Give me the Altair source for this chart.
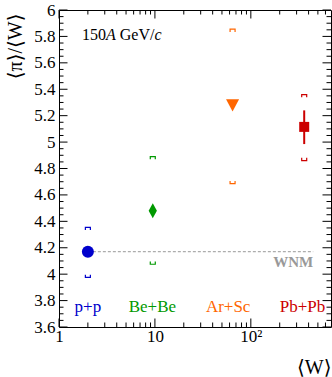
import altair as alt
import pandas as pd
import numpy as np

# ---- data ----
systems = ["p+p", "Be+Be", "Ar+Sc", "Pb+Pb"]
w_mean = [2.0, 9.5, 64.5, 360.0]
pi_over_w = [4.17, 4.48, 5.285, 5.115]
stat_lo = [4.165, 4.472, 5.278, 4.985]
stat_hi = [4.175, 4.488, 5.292, 5.24]
sys_lo = [3.975, 4.075, 4.685, 4.86]
sys_hi = [4.355, 4.89, 5.855, 5.36]

label_x = [2.0, 9.4, 58.0, 345.0]
label_y = [3.75, 3.75, 3.75, 3.75]

wnm_value = 4.17
wnm_x = [2.0, 447.0]
wnm_label_y = 4.094

y_major = [3.6, 3.8, 4.0, 4.2, 4.4, 4.6, 4.8, 5.0, 5.2, 5.4, 5.6, 5.8, 6.0]
y_minor = [round(3.6 + 0.05 * i, 2) for i in range(49) if i % 4 != 0]
x_major = [1, 10, 100]
x_minor = [2, 3, 4, 5, 6, 7, 8, 9, 20, 30, 40, 50, 60, 70, 80, 90,
           200, 300, 400, 500, 600]

# ---- styles ----
colors = ["#0000CC", "#009900", "#FF6600", "#CC0000"]
shapes = ["circle", "M0,-1L0.55,0L0,1L-0.55,0Z", "M-1,-0.8L1,-0.8L0,1.1Z", "square"]
sizes = [144, 225, 169, 100]
SERIF = "Liberation Serif, DejaVu Serif, serif"

W, H = 272, 317

xs = alt.Scale(type="log", domain=[1, 685], nice=False)
ys = alt.Scale(domain=[3.6, 6.0], nice=False, zero=False)

xaxis = alt.Axis(values=x_major, labelExpr="datum.value == 100 ? '10²' : datum.label",
                 grid=False, domain=False, ticks=False, labelFlush=False,
                 labelFont=SERIF, labelFontSize=17, labelColor="black", labelPadding=1,
                 title="⟨W⟩", titleX=W, titleY=40, titleAlign="right", titleBaseline="middle",
                 titleFont=SERIF, titleFontSize=20, titleFontWeight="normal", titleColor="black")
yaxis = alt.Axis(values=y_major, format="~g",
                 grid=False, domain=False, ticks=False, labelFlush=False,
                 labelFont=SERIF, labelFontSize=17, labelColor="black", labelPadding=4,
                 title="⟨π⟩/⟨W⟩", titleAngle=270, titleX=-44, titleY=3, titleAlign="right",
                 titleBaseline="middle", titleFont=SERIF, titleFontSize=20,
                 titleFontWeight="normal", titleColor="black")


def X(f):
    return alt.X(f, type="quantitative", scale=xs, axis=xaxis)


def Y(f):
    return alt.Y(f, type="quantitative", scale=ys, axis=yaxis)


df = pd.DataFrame({"system": systems, "w": w_mean, "r": pi_over_w,
                   "slo": stat_lo, "shi": stat_hi, "ylo": sys_lo, "yhi": sys_hi,
                   "lx": label_x, "ly": label_y})
color = alt.Color("system:N", scale=alt.Scale(domain=systems, range=colors), legend=None)

ymaj = pd.DataFrame({"v": y_major})
ymin = pd.DataFrame({"v": y_minor})
xmaj = pd.DataFrame({"v": x_major})
xmin = pd.DataFrame({"v": x_minor})

layers = []
tick = dict(color="black", strokeWidth=1)
# left / right ticks
layers.append(alt.Chart(ymaj).mark_rule(**tick).encode(y=Y("v"), x=alt.value(0), x2=alt.value(8.5)))
layers.append(alt.Chart(ymin).mark_rule(**tick).encode(y=Y("v"), x=alt.value(0), x2=alt.value(4.5)))
layers.append(alt.Chart(ymaj).mark_rule(**tick).encode(y=Y("v"), x=alt.value(W), x2=alt.value(W - 8.5)))
layers.append(alt.Chart(ymin).mark_rule(**tick).encode(y=Y("v"), x=alt.value(W), x2=alt.value(W - 4.5)))
# bottom / top ticks
layers.append(alt.Chart(xmaj).mark_rule(**tick).encode(x=X("v"), y=alt.value(H), y2=alt.value(H - 8.5)))
layers.append(alt.Chart(xmin).mark_rule(**tick).encode(x=X("v"), y=alt.value(H), y2=alt.value(H - 4.5)))
layers.append(alt.Chart(xmaj).mark_rule(**tick).encode(x=X("v"), y=alt.value(0), y2=alt.value(8.5)))
layers.append(alt.Chart(xmin).mark_rule(**tick).encode(x=X("v"), y=alt.value(0), y2=alt.value(4.5)))

# WNM dashed line and label
wnm = pd.DataFrame({"x1": [wnm_x[0]], "x2": [wnm_x[1]], "y": [wnm_value], "ly": [wnm_label_y]})
layers.append(alt.Chart(wnm).mark_rule(color="#999999", strokeWidth=1, strokeDash=[3, 2]).encode(
    x=X("x1"), x2="x2", y=Y("y")))
layers.append(alt.Chart(wnm).mark_text(text="WNM", align="right", baseline="middle", font=SERIF,
                                       fontSize=15, fontWeight="bold", color="#999999").encode(
    x=X("x2"), y=Y("ly")))

# systematic brackets
top_path = "M-1,1.1L-1,0L1,0L1,1.1"
bot_path = "M-1,-1.1L-1,0L1,0L1,-1.1"
layers.append(alt.Chart(df).mark_point(shape=top_path, filled=False, size=25, strokeWidth=1.2,
                                       opacity=1).encode(x=X("w"), y=Y("yhi"), color=color))
layers.append(alt.Chart(df).mark_point(shape=bot_path, filled=False, size=25, strokeWidth=1.2,
                                       opacity=1).encode(x=X("w"), y=Y("ylo"), color=color))
# statistical errors
layers.append(alt.Chart(df).mark_rule(strokeWidth=2).encode(x=X("w"), y=Y("slo"), y2="shi", color=color))

# markers
for i, s in enumerate(systems):
    layers.append(alt.Chart(df).transform_filter(alt.datum.system == s).mark_point(
        shape=shapes[i], size=sizes[i], color=colors[i], filled=True, opacity=1, strokeWidth=0
    ).encode(x=X("w"), y=Y("r")))

# system labels
layers.append(alt.Chart(df).mark_text(font=SERIF, fontSize=17, align="center", baseline="middle").encode(
    x=X("lx"), y=Y("ly"), text="system:N", color=color))

# energy label "150A GeV/c"
energy_parts = [("150", "normal", 23), ("A", "italic", 47), ("GeV/", "normal", 60.8), ("c", "italic", 95.5)]
for txt, style, px in energy_parts:
    layers.append(alt.Chart(df.head(1)).mark_text(text=txt, font=SERIF, fontSize=16, fontStyle=style,
                                                  align="left", baseline="middle", color="black").encode(
        x=alt.value(px), y=alt.value(25)))

chart = alt.layer(*layers).properties(
    width=W, height=H, autosize="none",
    padding={"left": 59, "top": 10, "right": 1, "bottom": 50},
    background="white",
).configure_view(stroke="black", strokeWidth=1)

chart.save("out.html", embed_options={"renderer": "svg", "actions": False})
